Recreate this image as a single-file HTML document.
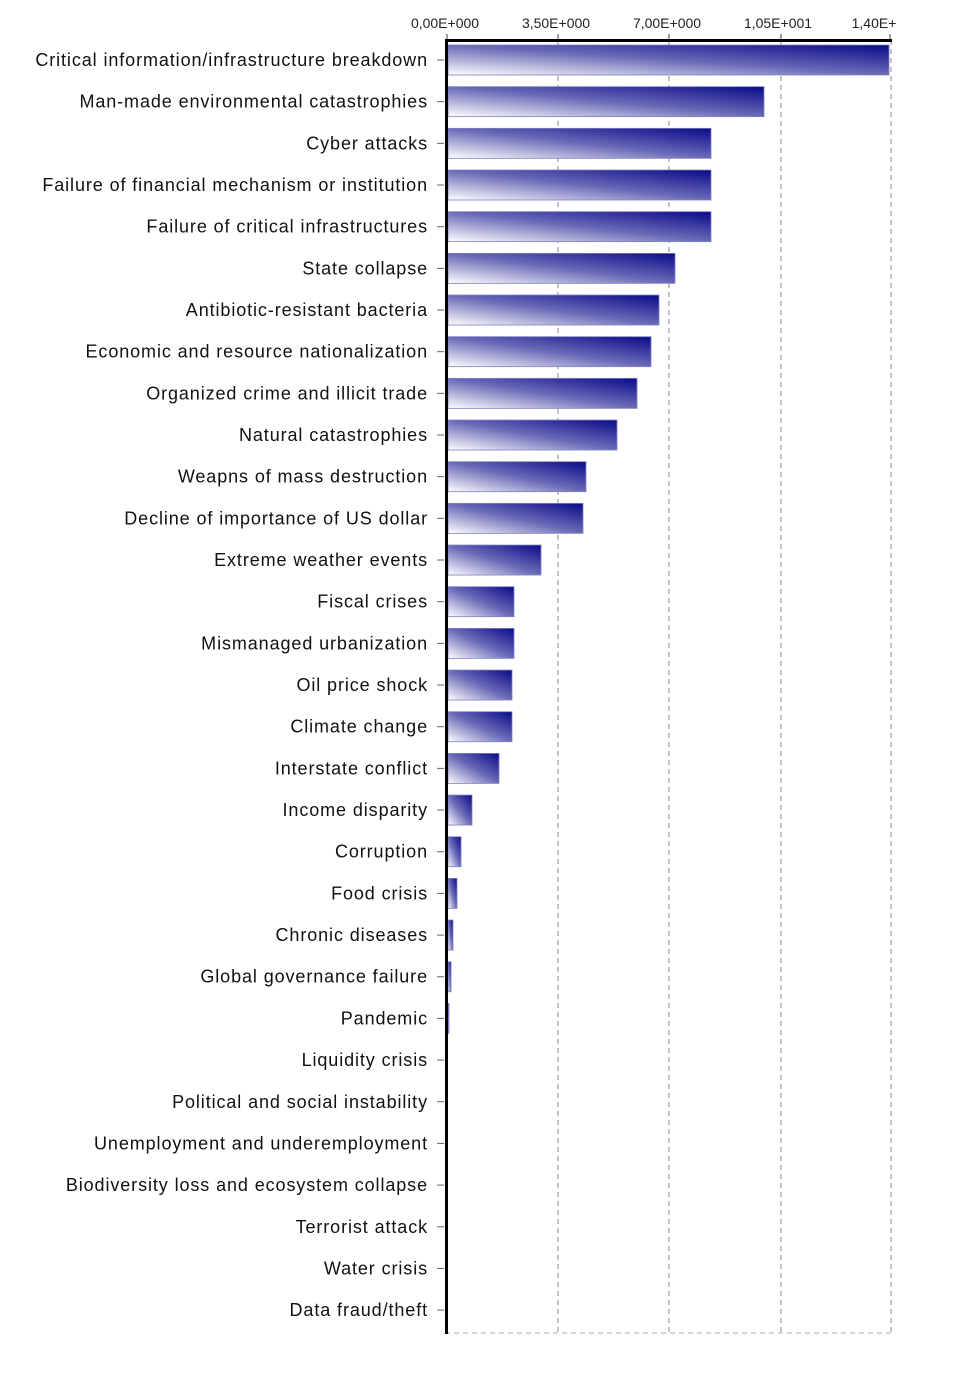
<!DOCTYPE html>
<html><head><style>
body{margin:0;background:#fff;width:970px;height:1368px;overflow:hidden;font-family:"Liberation Sans",sans-serif;}
</style></head><body>
<svg width="970" height="1368" xmlns="http://www.w3.org/2000/svg">
<defs>
<linearGradient id="g" x1="0" y1="1" x2="1" y2="0">
<stop offset="0" stop-color="#ffffff"/>
<stop offset="0.5" stop-color="#6a6ab8"/>
<stop offset="1" stop-color="#0a0a88"/>
</linearGradient>
</defs>
<g stroke="#888" stroke-dasharray="5,4" stroke-width="1">
<line x1="558" y1="40" x2="558" y2="1333"/>
<line x1="669" y1="40" x2="669" y2="1333"/>
<line x1="781" y1="40" x2="781" y2="1333"/>
<line x1="891" y1="40" x2="891" y2="1333"/>
</g>
<line x1="445" y1="1333" x2="891" y2="1333" stroke="#aaa" stroke-dasharray="5,4"/>
<g font-size="14" fill="#222" text-anchor="middle">
<text x="445" y="28">0,00E+000</text>
<text x="556" y="28">3,50E+000</text>
<text x="667" y="28">7,00E+000</text>
<text x="778" y="28">1,05E+001</text>
<text x="874" y="28">1,40E+</text>
</g>
<g stroke="#444" stroke-width="1">
<line x1="447" y1="34" x2="447" y2="40"/><line x1="558" y1="34" x2="558" y2="40"/><line x1="669" y1="34" x2="669" y2="40"/><line x1="781" y1="34" x2="781" y2="40"/><line x1="890" y1="34" x2="890" y2="40"/>
</g>
<g id="bars" font-size="18" fill="#111" text-anchor="end" letter-spacing="0.9"></g>
<line x1="445" y1="40.5" x2="892" y2="40.5" stroke="#000" stroke-width="3"/>
<line x1="446.5" y1="39" x2="446.5" y2="1334" stroke="#000" stroke-width="3"/>
</svg>
<script>
var L=["Critical information/infrastructure breakdown","Man-made environmental catastrophies","Cyber attacks","Failure of financial mechanism or institution","Failure of critical infrastructures","State collapse","Antibiotic-resistant bacteria","Economic and resource nationalization","Organized crime and illicit trade","Natural catastrophies","Weapns of mass destruction","Decline of importance of US dollar","Extreme weather events","Fiscal crises","Mismanaged urbanization","Oil price shock","Climate change","Interstate conflict","Income disparity","Corruption","Food crisis","Chronic diseases","Global governance failure","Pandemic","Liquidity crisis","Political and social instability","Unemployment and underemployment","Biodiversity loss and ecosystem collapse","Terrorist attack","Water crisis","Data fraud/theft"];
var E=[889,764,711,711,711,675,659,651,637,617,586,583,541,514,514,512,512,499,472,461,457,453,451,449,447,447,447,447,447,447,447];
var g=document.getElementById("bars"),h="";
for(var i=0;i<31;i++){var c=60+i*41.67;
h+='<text x="428" y="'+(c+6)+'">'+L[i]+'</text>';
h+='<line x1="437" y1="'+c+'" x2="444" y2="'+c+'" stroke="#666" letter-spacing="0"/>';
if(E[i]>447)h+='<rect x="448" y="'+(c-15)+'" width="'+(E[i]-448)+'" height="30" fill="url(#g)" stroke="#8080c0" stroke-width="0.8"/>';}
g.innerHTML=h;
</script>
</body></html>
